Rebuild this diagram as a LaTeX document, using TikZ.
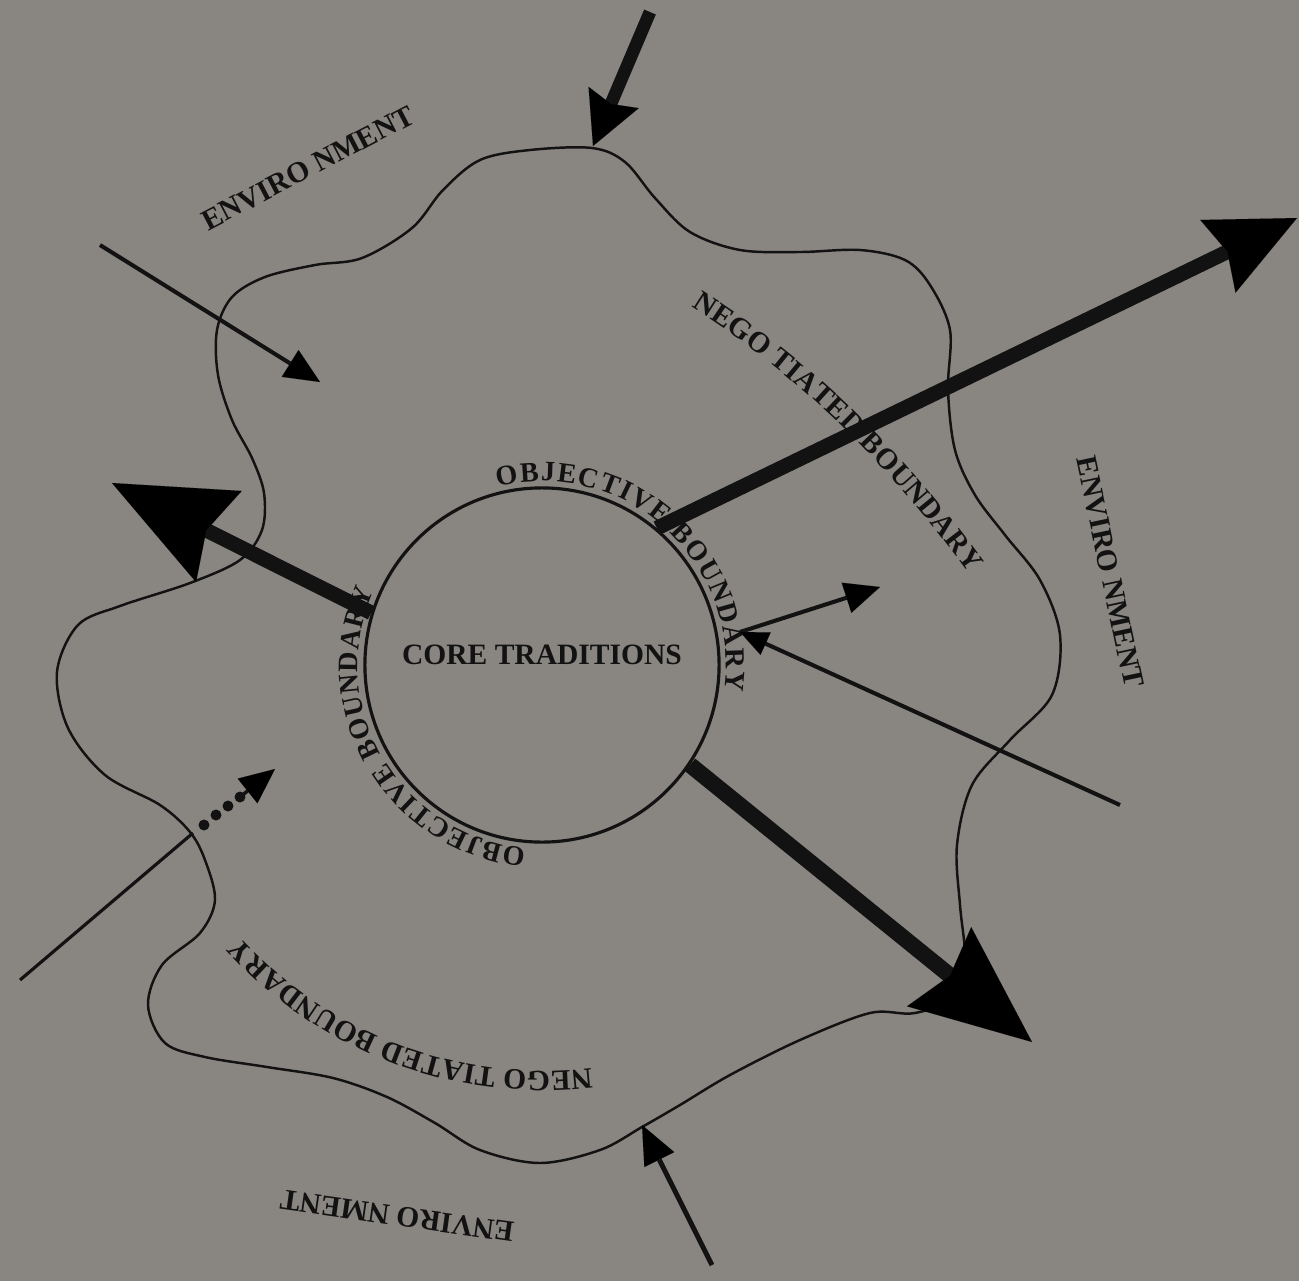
\documentclass[tikz,border=0pt]{standalone}
\usepackage{fontspec}
\setmainfont{Liberation Serif}
\usetikzlibrary{arrows.meta,decorations.text}
\definecolor{bg}{RGB}{137,134,130}
\definecolor{ink}{RGB}{18,18,18}
\newcommand\lblfont{\bfseries\fontsize{8.4}{9}\selectfont}
\newcommand\circfont{\bfseries\fontsize{8}{9}\selectfont}
\begin{document}
\begin{tikzpicture}[x=0.01cm,y=0.01cm,
  lbl/.style={font=\lblfont, text=ink, inner sep=0pt},
  wave/.style={draw=ink, line width=0.7pt},
  thinarrow/.style={draw=ink, line width=1.15pt, -{Triangle[length=10pt,width=9pt,line width=0.01pt]}},
  midarrow/.style={draw=ink, line width=3.6pt, -{Stealth[length=15pt,width=15.5pt,inset=2pt,line width=0.01pt]}},
  bigarrow/.style={draw=ink, line width=4.2pt},
  curvetext/.style={decorate, decoration={text along path, text align={fit to path}, text color=ink}}]
\fill[bg] (0,0) rectangle (1299,-1281);
\useasboundingbox (0,0) rectangle (1299,-1281);

% negotiated (wavy) boundary
\draw[wave] plot[smooth cycle, tension=0.55] coordinates {
 (592,-148) (625,-162) (655,-198) (690,-232) (740,-250) (800,-252) (860,-250) (905,-260)
 (930,-285) (950,-330) (948,-390) (955,-450) (975,-495) (1005,-535) (1040,-580) (1060,-635)
 (1052,-695) (1010,-740) (972,-785) (957,-845) (960,-905) (965,-955) (960,-995) (915,-1013)
 (870,-1013) (800,-1040) (730,-1075) (680,-1105) (642,-1127) (600,-1150) (540,-1163) (480,-1150)
 (435,-1123) (387,-1097) (333,-1078) (267,-1067) (205,-1057) (165,-1043) (148,-1005) (162,-965)
 (200,-933) (215,-900) (205,-860) (190,-832) (160,-805) (105,-775) (68,-728) (57,-672)
 (78,-625) (120,-606) (190,-583) (240,-560) (262,-530) (264,-493) (252,-458) (232,-420)
 (218,-375) (217,-330) (232,-297) (265,-277) (315,-265) (362,-258) (412,-228) (443,-190)
 (480,-160) (530,-150)};

% core circle (objective boundary)
\node[circle, draw=ink, line width=0.9pt, minimum size=3.54cm, inner sep=0pt] (core) at (542,-665) {};
\node[lbl] (coretxt) at (542,-655) {CORE TRADITIONS};

% objective boundary labels on the circle
\path[curvetext, decoration={text={|\circfont|OBJECTIVE BOUNDARY}}]
  ([shift={(104:184)}]542,-665) arc[start angle=104, end angle=-8, radius=184];
\path[curvetext, decoration={text={|\circfont|OBJECTIVE BOUNDARY}}]
  ([shift={(-95:184)}]542,-665) arc[start angle=-95, end angle=-204, radius=184];

% negotiated boundary labels
\path[curvetext, decoration={text={|\lblfont|NEGO TIATED BOUNDARY}}]
  (691,-307) .. controls +(-32:130) and +(126:130) .. (969,-574);
\path[curvetext, decoration={text={|\lblfont|NEGO TIATED BOUNDARY}}]
  ([shift={(-83:406)}]542,-665) arc[start angle=-83, end angle=-138, radius=406];

% environment labels
\node[lbl, rotate=27.6] (env1) at (308,-168) {ENVIRO NMENT};
\node[lbl, rotate=-78] (env2) at (1110,-572) {ENVIRO NMENT};
\node[lbl, rotate=172] (env3) at (397,-1216) {ENVIRO NMENT};

% coordinates for connectors
\coordinate (topA) at (650,-12);
\coordinate (topT) at (593,-146);
\coordinate (tlA) at (100,-245);
\coordinate (tlT) at (320,-382);
\coordinate (urT) at (1297,-218);
\coordinate (lfT) at (112,-483);
\coordinate (lrT) at (1032,-1042);
\coordinate (hub) at (740,-632);
\coordinate (rtT) at (880,-587);
\coordinate (lnA) at (1120,-805);
\coordinate (btA) at (712,-1265);
\coordinate (btT) at (642,-1125);
\coordinate (blA) at (20,-980);
\coordinate (blB) at (193,-833);
\coordinate (d1) at (204,-825);
\coordinate (d2) at (216,-815);
\coordinate (d3) at (228,-806);
\coordinate (d4) at (240,-797);
\coordinate (blT) at (275,-769);

% arrows
\draw[midarrow] (topA) -- (topT);
\draw[thinarrow] (tlA) -- (tlT);
\draw[bigarrow, -{Stealth[length=25pt,width=23pt,inset=3pt,line width=0.01pt]}] (core.50) -- (urT);
\draw[bigarrow, -{Stealth[length=34pt,width=29pt,inset=4pt,line width=0.01pt]}] (core.163) -- (lfT);
\draw[bigarrow, line width=4.6pt, -{Stealth[length=34pt,width=29pt,inset=4pt,line width=0.01pt]}] (core.-34) -- (lrT);
\draw[thinarrow] (hub) -- (rtT);
\draw[thinarrow, -{Triangle[length=8pt,width=7pt,line width=0.01pt]}] (lnA) -- (hub);
\draw[thinarrow, line width=1.4pt, -{Triangle[length=11pt,width=9.5pt,line width=0.01pt]}] (btA) -- (btT);
\draw[draw=ink, line width=0.9pt] (blA) -- (blB);
\foreach \d in {d1,d2,d3,d4} \fill[ink] (\d) circle (5.5);
\draw[thinarrow, line width=1pt, -{Triangle[length=10pt,width=9pt,line width=0.01pt]}] (d4) -- (blT);
\end{tikzpicture}
\end{document}
